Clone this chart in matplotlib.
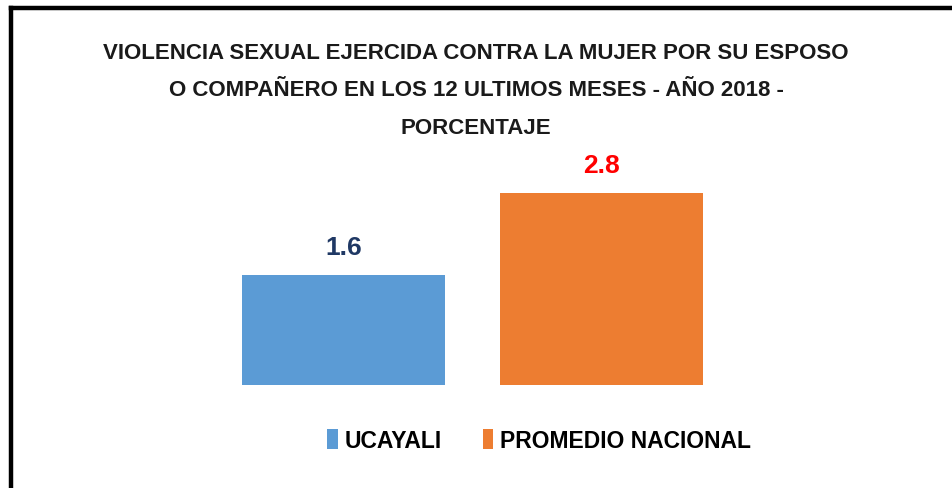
import matplotlib
matplotlib.use("Agg")
import matplotlib.pyplot as plt
from matplotlib.lines import Line2D

plt.rcParams["font.family"] = ["Liberation Sans", "DejaVu Sans"]

SERIES = ["UCAYALI", "PROMEDIO NACIONAL"]
VALUES = [1.6, 2.8]
COLORS = ["#5B9BD5", "#ED7D31"]
LABEL_COLORS = ["#1F3864", "#FF0000"]
TITLE = ("VIOLENCIA SEXUAL EJERCIDA CONTRA LA MUJER POR SU ESPOSO\n"
         "O COMPAÑERO EN LOS 12 ULTIMOS MESES - AÑO 2018 -\n"
         "PORCENTAJE")

fig = plt.figure(figsize=(9.53, 4.89), dpi=100)
# axes: pixel 60..890 horizontally, baseline at 103 px from bottom
ax = fig.add_axes([60 / 953, 103 / 489, 830 / 953, 240 / 489])

xs = range(len(VALUES))
bars = ax.bar(xs, VALUES, width=0.787, color=COLORS, label=SERIES, zorder=3)
ax.set_xlim(-1.099, 2.118)
ax.set_ylim(0, 240 / 68.5)

for x, v, c in zip(xs, VALUES, LABEL_COLORS):
    ax.annotate(f"{v:.1f}", (x, v), xytext=(0, 12), textcoords="offset points",
                ha="center", va="bottom", fontsize=19, fontweight="bold", color=c)

ax.axis("off")

fig.text(0.4995, 1 - 91 / 489, TITLE, ha="center", va="center", fontsize=16,
         fontweight="bold", color="#1a1a1a", linespacing=2.02)

ax.legend(handles=list(bars), labels=SERIES, loc="center", ncol=2,
          bbox_to_anchor=(0.566, 0.098), bbox_transform=fig.transFigure,
          frameon=False, prop={"weight": "bold", "size": 16.5},
          handlelength=0.45, handleheight=1.0, handletextpad=0.3,
          columnspacing=1.8)

# partial black frame (top and left)
fig.add_artist(Line2D([11 / 953, 1], [1 - 9 / 489, 1 - 9 / 489], color="black",
                      lw=3.2, transform=fig.transFigure, solid_capstyle="projecting"))
fig.add_artist(Line2D([11 / 953, 11 / 953], [2 / 489, 1 - 9 / 489], color="black",
                      lw=3.2, transform=fig.transFigure, solid_capstyle="projecting"))

fig.savefig("out.png", dpi=100, facecolor="white")
